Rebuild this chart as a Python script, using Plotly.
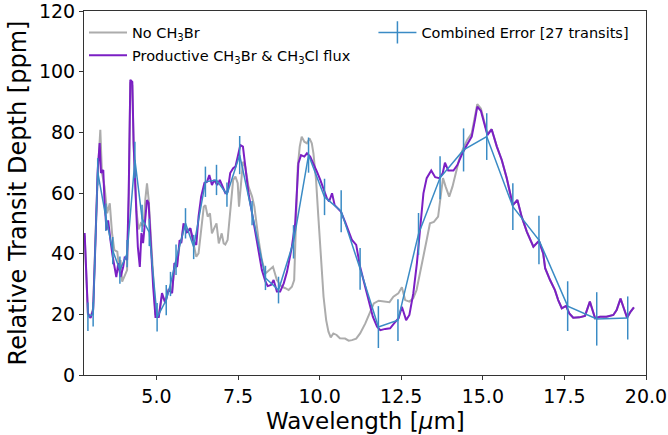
import plotly.graph_objects as go

# ---- Data ----
purple_x = [2.80, 2.90, 2.98, 3.06, 3.13, 3.20, 3.26, 3.30, 3.37, 3.41, 3.47, 3.52, 3.59, 3.66, 3.77, 3.83, 3.90, 3.98,
            4.03, 4.10, 4.15, 4.20, 4.26, 4.30, 4.39, 4.43, 4.49, 4.54, 4.59, 4.63, 4.71, 4.76, 4.82, 4.90, 4.97,
            5.07, 5.17, 5.27, 5.37, 5.48, 5.55, 5.63, 5.71, 5.76, 5.83, 5.92, 5.96, 6.04, 6.12, 6.22, 6.29, 6.37,
            6.47, 6.55, 6.62, 6.70, 6.77, 6.86, 6.94, 7.01, 7.11, 7.18, 7.26, 7.35, 7.42, 7.49, 7.57, 7.65, 7.72,
            7.82, 7.93, 8.03, 8.13, 8.23, 8.34, 8.41, 8.51, 8.59, 8.69, 8.79, 8.90, 9.00, 9.15, 9.25, 9.35, 9.43,
            9.53, 9.61, 9.71, 9.81, 9.92, 10.02, 10.14, 10.22, 10.29, 10.38, 10.46, 10.55, 10.65, 10.78, 10.89,
            10.99, 11.12, 11.24, 11.37, 11.50, 11.63, 11.76, 11.86, 12.01, 12.16, 12.28, 12.42, 12.52, 12.65,
            12.75, 12.87, 12.98, 13.08, 13.18, 13.28, 13.42, 13.54, 13.67, 13.77, 13.84, 13.94, 14.10, 14.22,
            14.35, 14.51, 14.66, 14.76, 14.83, 14.94, 15.04, 15.14, 15.27, 15.43, 15.58, 15.73, 15.92, 16.06,
            16.19, 16.35, 16.55, 16.72, 16.85, 16.91, 17.06, 17.21, 17.31, 17.42, 17.55, 17.65, 17.77, 17.96,
            18.13, 18.28, 18.44, 18.59, 18.79, 19.00, 19.10, 19.22, 19.32, 19.42, 19.53, 19.63]
purple_y = [46.8, 20.4, 18.8, 21.4, 43.5, 67.6, 76.5, 66.6, 67.6, 56.7, 47.8, 51.0, 44.5, 39.0, 32.3, 36.9, 32.3, 35.6,
            39.0, 37.9, 60.0, 97.3, 96.6, 76.5, 52.0, 42.2, 35.6, 46.8, 43.5, 48.8, 57.7, 56.7, 43.5, 29.0, 19.1,
            19.1, 27.0, 23.7, 28.0, 27.0, 36.9, 35.6, 44.5, 43.5, 50.0, 47.0, 47.2, 48.4, 44.5, 42.9, 52.2, 58.8,
            63.3, 63.7, 65.9, 62.6, 64.3, 62.6, 64.3, 62.6, 60.0, 60.4, 66.6, 68.2, 68.7, 72.0, 75.8, 75.3, 68.7,
            59.9, 53.3, 46.7, 40.1, 34.6, 30.8, 29.3, 29.7, 31.3, 27.5, 27.5, 30.2, 34.0, 42.3, 50.0, 69.8, 72.5,
            72.0, 73.1, 72.0, 69.8, 67.0, 64.3, 61.0, 58.3, 57.2, 59.9, 56.0, 55.0, 53.9, 50.5, 47.2,
            44.5, 42.9, 35.7, 30.2, 24.7, 19.2, 15.9, 14.8, 15.2, 15.4, 17.0, 18.7, 22.5, 18.1,
            19.8, 26.9, 36.8, 48.9, 59.9, 64.9, 67.4, 65.2, 64.9, 66.5, 70.0, 67.4, 67.4, 69.2,
            72.5, 75.8, 78.6, 84.1, 88.5, 87.1, 83.0, 79.1, 81.0, 75.3, 70.9, 65.0, 56.0, 57.7,
            52.2, 47.2, 42.3, 44.2, 40.1, 35.2, 31.3, 28.0, 24.7, 22.0, 22.8, 20.3, 18.9, 19.0,
            19.5, 24.2, 18.7, 19.2, 19.2, 19.8, 21.4, 25.2, 22.0, 18.9, 20.9, 22.3]

gray_x = [2.80, 2.90, 2.98, 3.06, 3.13, 3.20, 3.28, 3.33, 3.41, 3.49, 3.57, 3.64, 3.71, 3.80, 3.85, 3.90, 3.95, 4.02,
          4.10, 4.15, 4.20, 4.26, 4.30, 4.39, 4.45, 4.52, 4.60, 4.66, 4.71, 4.76, 4.82, 4.90, 4.97, 5.07, 5.17,
          5.27, 5.37, 5.48, 5.55, 5.63, 5.71, 5.76, 5.83, 5.92, 6.04, 6.12, 6.22, 6.29, 6.37, 6.45, 6.50, 6.57,
          6.64, 6.70, 6.77, 6.84, 6.91, 7.00, 7.06, 7.11, 7.18, 7.26, 7.35, 7.42, 7.49, 7.53, 7.59, 7.65, 7.72,
          7.82, 7.93, 8.00, 8.13, 8.23, 8.34, 8.44, 8.57, 8.69, 8.84, 8.95, 9.05, 9.15, 9.22, 9.28, 9.33, 9.39,
          9.45, 9.53, 9.61, 9.69, 9.76, 9.81, 9.89, 9.96, 10.04, 10.12, 10.20, 10.27, 10.34, 10.42, 10.52,
          10.62, 10.78, 10.89, 10.99, 11.12, 11.24, 11.40, 11.53, 11.66, 11.81, 11.96, 12.14, 12.26, 12.41,
          12.52, 12.62, 12.75, 12.87, 12.97, 13.08, 13.20, 13.28, 13.38, 13.50, 13.63, 13.70, 13.78, 13.86,
          13.97, 14.07, 14.17, 14.27, 14.38, 14.52, 14.66, 14.76, 14.83, 14.94, 15.04, 15.14, 15.27, 15.43,
          15.58, 15.73, 15.92, 16.06, 16.19, 16.35, 16.55, 16.72, 16.85, 16.91, 17.06, 17.21, 17.31, 17.42,
          17.55, 17.65, 17.77, 17.96, 18.13, 18.28, 18.44, 18.59, 18.79, 19.00, 19.10, 19.22, 19.32, 19.42,
          19.53, 19.63]
gray_y = [46.0, 20.0, 19.0, 22.0, 45.0, 66.0, 80.8, 66.6, 62.0, 53.3, 56.6, 46.7, 41.2, 40.7, 35.7, 37.9, 30.8, 32.4,
          34.6, 58.0, 96.5, 95.5, 76.0, 54.0, 48.0, 50.0, 49.0, 58.0, 63.2, 58.0, 46.0, 30.0, 20.0, 19.5, 26.0,
          24.5, 28.0, 28.0, 35.0, 36.0, 43.0, 44.0, 49.0, 48.0, 48.0, 44.0, 39.0, 40.1, 48.9, 55.5, 56.0, 52.2,
          53.3, 46.7, 48.4, 50.0, 43.4, 46.7, 43.4, 43.0, 44.5, 54.4, 64.3, 65.4, 63.2, 55.5, 64.3, 70.3, 68.7,
          62.1, 58.8, 55.5, 44.5, 37.9, 33.5, 34.6, 35.7, 31.3, 29.1, 28.6, 28.0, 29.1, 31.3, 52.2, 68.7, 75.3,
          78.6, 76.9, 76.4, 78.0, 76.4, 73.1, 64.3, 52.2, 39.0, 25.8, 18.1, 14.3, 12.4, 13.7, 13.2,
          12.1, 12.0, 11.3, 11.5, 12.0, 13.7, 17.0, 20.3, 23.6, 24.5, 24.2, 24.0, 25.8, 26.9,
          28.9, 24.7, 24.2, 25.3, 28.0, 33.5, 39.6, 44.5, 50.0, 50.5, 52.2, 57.7, 64.9, 62.1,
          58.8, 62.1, 66.5, 70.9, 74.2, 77.5, 79.7, 85.2, 89.3, 87.9, 83.5, 79.5, 81.0, 75.3,
          70.9, 65.0, 56.0, 57.7, 52.2, 47.2, 42.3, 44.2, 40.1, 35.2, 31.3, 28.0, 24.7, 22.0,
          22.8, 20.3, 18.9, 19.0, 19.5, 24.2, 18.7, 19.2, 19.2, 19.8, 21.4, 25.2, 22.0, 18.9,
          20.9, 22.3]

err_x = [2.90, 3.06, 3.20, 3.45, 3.66, 3.88, 4.10, 4.34, 4.56, 4.78, 5.02, 5.30, 5.43, 5.60, 5.89, 6.14, 6.50, 6.84,
         7.16, 7.55, 7.93, 8.34, 8.74, 9.20, 9.66, 10.15, 10.66, 11.24, 11.80, 12.40, 13.03, 13.69, 14.41,
         15.12, 15.92, 16.72, 17.60, 18.49, 19.44]
err_y = [19.2, 20.0, 67.0, 52.0, 41.0, 34.6, 40.0, 70.9, 51.6, 47.0, 19.0, 24.7, 30.0, 38.0, 50.0, 42.2, 63.7, 64.3,
         59.5, 72.5, 53.4, 32.0, 28.0, 43.9, 72.5, 58.7, 54.0, 35.0, 15.8, 18.1, 46.5, 65.0, 74.2,
         78.6, 55.5, 44.5, 22.7, 18.5, 18.8]
err_e = [4.7, 4.0, 4.5, 4.5, 4.5, 4.5, 4.5, 6.0, 4.5, 4.5, 4.7, 5.0, 4.0, 5.0, 5.0, 4.0, 5.0, 5.0,
         4.0, 6.3, 4.0, 4.0, 4.4, 5.5, 5.8, 6.0, 6.9, 6.9, 6.9, 6.9, 6.9, 7.1, 7.1,
         7.7, 7.7, 8.0, 8.2, 8.8, 7.1]

x_ticks = [5.0, 7.5, 10.0, 12.5, 15.0, 17.5, 20.0]
x_ticklabels = ["5.0", "7.5", "10.0", "12.5", "15.0", "17.5", "20.0"]
y_ticks = [0, 20, 40, 60, 80, 100, 120]
x_title = "Wavelength [<i>μ</i>m]"
y_title = "Relative Transit Depth [ppm]"

GRAY = "#acacac"
PURPLE = "#7b1fc4"
BLUE = "#3a8bc5"
FONT = "DejaVu Sans"

fig = go.Figure()
fig.add_trace(go.Scatter(x=gray_x, y=gray_y, mode="lines", name="No CH<sub>3</sub>Br",
                         line=dict(color=GRAY, width=2), legend="legend", legendgroup="g1"))
fig.add_trace(go.Scatter(x=purple_x, y=purple_y, mode="lines",
                         name="Productive CH<sub>3</sub>Br & CH<sub>3</sub>Cl flux",
                         line=dict(color=PURPLE, width=2), legend="legend", legendgroup="g2"))
fig.add_trace(go.Scatter(x=err_x, y=err_y, mode="lines", name="Combined Error [27 transits]",
                         line=dict(color=BLUE, width=1.5), showlegend=False,
                         error_y=dict(type="data", array=err_e, visible=True, color=BLUE,
                                      thickness=1.5, width=0)))
# legend proxy for the error series (line with vertical tick)
fig.add_trace(go.Scatter(x=[None], y=[None], mode="lines+markers", name="Combined Error [27 transits]",
                         line=dict(color=BLUE, width=1.5),
                         marker=dict(symbol="line-ns-open", size=16, color=BLUE,
                                     line=dict(color=BLUE, width=1.5)),
                         legend="legend2"))

axis_common = dict(showline=True, linecolor="#333333", linewidth=1, mirror=True, automargin=False,
                   ticks="outside", ticklen=4, tickcolor="#333333", showgrid=False, zeroline=False,
                   ticklabeloverflow="allow",
                   tickfont=dict(family=FONT, size=19, color="black"))

fig.update_layout(
    width=668, height=435,
    margin=dict(l=84, r=22, t=11, b=60),
    paper_bgcolor="white", plot_bgcolor="white",
    font=dict(family=FONT, color="black"),
    xaxis=dict(range=[2.78, 20.0], tickvals=x_ticks, ticktext=x_ticklabels,
               **axis_common),
    yaxis=dict(range=[0, 120], tickvals=y_ticks,
               title=dict(text=y_title, font=dict(family=FONT, size=24), standoff=5),
               **axis_common),
    legend=dict(x=0.0, y=0.985, xanchor="left", yanchor="top", bgcolor="rgba(0,0,0,0)",
                font=dict(family=FONT, size=14.5), tracegroupgap=1, itemwidth=38),
    legend2=dict(x=0.515, y=0.985, xanchor="left", yanchor="top", bgcolor="rgba(0,0,0,0)",
                 font=dict(family=FONT, size=14.5), itemwidth=38),
    showlegend=True,
    annotations=[dict(text=x_title, xref="paper", yref="paper", x=0.5, y=-0.125,
                      xanchor="center", yanchor="middle", showarrow=False,
                      font=dict(family=FONT, size=23, color="black"))],
)

fig.write_html("out.html", config={"displayModeBar": False},
               post_script="document.body.style.margin='0';")
